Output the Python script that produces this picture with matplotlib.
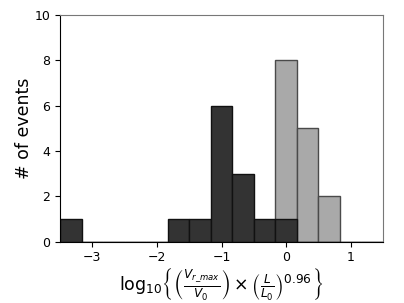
import numpy as np
import matplotlib
matplotlib.use("Agg")
import matplotlib.pyplot as plt

bin_edges = np.linspace(-3.5, 1.5, 16)
dark_counts = [1, 0, 0, 0, 0, 1, 1, 6, 3, 1, 1, 0, 0, 0, 0]
light_counts = [0, 0, 0, 0, 0, 0, 0, 0, 0, 0, 8, 5, 2, 0, 0]

fig = plt.figure(figsize=(4.04, 3.03), dpi=100)
ax = fig.add_axes([60/404, 61.3/303, 323/404, 226.7/303])

widths = np.diff(bin_edges)
ax.bar(bin_edges[:-1], light_counts, width=widths, align='edge',
       color='#a9a9a9', edgecolor='#4a4a4a', linewidth=1.0)
ax.bar(bin_edges[:-1], dark_counts, width=widths, align='edge',
       color='#333333', edgecolor='#111111', linewidth=1.0)

ax.set_xlim(-3.5, 1.5)
ax.set_ylim(0, 10)
ax.set_xticks([-3, -2, -1, 0, 1])
ax.set_yticks([0, 2, 4, 6, 8, 10])
ax.tick_params(labelsize=9)
for s in ['top', 'right']:
    ax.spines[s].set_color('#777777')
ax.set_ylabel('# of events', fontsize=12.5, labelpad=1)
ax.set_xlabel(r'$\mathrm{log}_{10}\left\{\left(\frac{V_{r\_max}}{V_0}\right)\times\left(\frac{L}{L_0}\right)^{0.96}\right\}$',
              fontsize=12.5, labelpad=1)

fig.savefig('out.png', dpi=100)
